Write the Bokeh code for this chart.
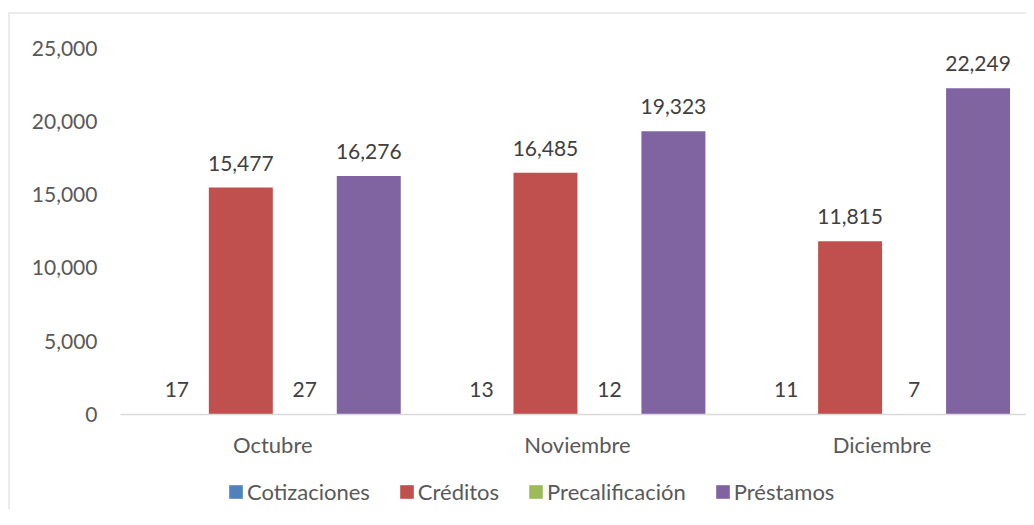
from bokeh.plotting import figure
from bokeh.models import (Range1d, FixedTicker, ColumnDataSource, LabelSet, Legend,
                          LegendItem, Span, NumeralTickFormatter)
from bokeh.transform import dodge
from bokeh.embed import file_html
from bokeh.resources import INLINE
from bokeh.core.properties import value

months = ["Octubre", "Noviembre", "Diciembre"]
series = ["Cotizaciones", "Créditos", "Precalificación", "Préstamos"]
cotizaciones = [17, 13, 11]
creditos = [15477, 16485, 11815]
precalificacion = [27, 12, 7]
prestamos = [16276, 19323, 22249]
colors = ["#4F81BD", "#C0504D", "#9BBB59", "#8064A2"]
y_ticks = [0, 5000, 10000, 15000, 20000, 25000]

FONT = "Lato"
values = [cotizaciones, creditos, precalificacion, prestamos]
xs = [i + 0.5 for i in range(len(months))]
data = {"x": xs}
for k, (name, vals) in enumerate(zip(series, values)):
    data[f"s{k}"] = vals
    data[f"l{k}"] = [f"{v:,}" for v in vals]
src = ColumnDataSource(data)

# frame covers the whole chart box; axes are pinned at x=0 / y=0
p = figure(width=1026, height=509, x_range=Range1d(-0.3676, 2.974),
           y_range=Range1d(-6480, 27422),
           output_backend="svg", toolbar_location=None,
           min_border_left=8, min_border_right=0, min_border_top=12, min_border_bottom=0)
p.outline_line_color = None
p.xgrid.visible = False
p.ygrid.visible = False

offsets = [-0.315, -0.105, 0.105, 0.315]
bw = 0.21
items = []
for k, name in enumerate(series):
    r = p.vbar(x=dodge("x", offsets[k], range=p.x_range), top=f"s{k}", width=bw,
               source=src, fill_color=colors[k], line_color=None)
    items.append(LegendItem(label=name, renderers=[r]))
    p.add_layout(LabelSet(x=dodge("x", offsets[k], range=p.x_range), y=f"s{k}", text=f"l{k}",
                          source=src, text_align="center", text_baseline="alphabetic",
                          y_offset=17, text_font=value(FONT), text_font_size="21px",
                          text_color="#404040"))

ya = p.yaxis[0]
ya.fixed_location = 0
ya.bounds = (0, 25000)
ya.ticker = FixedTicker(ticks=y_ticks)
ya.formatter = NumeralTickFormatter(format="0,0")
ya.axis_line_color = None
ya.major_tick_line_color = None
ya.minor_tick_line_color = None
ya.major_tick_in = 0
ya.major_tick_out = 0
ya.major_label_standoff = 23
ya.major_label_text_font = FONT
ya.major_label_text_font_size = "21px"
ya.major_label_text_color = "#595959"

xa = p.xaxis[0]
xa.fixed_location = 0
xa.bounds = (0, len(months))
xa.ticker = FixedTicker(ticks=xs)
xa.major_label_overrides = {x: m for x, m in zip(xs, months)}
xa.axis_line_color = "#d9d9d9"
xa.axis_line_width = 1.5
xa.major_tick_line_color = None
xa.minor_tick_line_color = None
xa.major_tick_in = 0
xa.major_tick_out = 0
xa.major_label_standoff = 16
xa.major_label_text_font = FONT
xa.major_label_text_font_size = "22px"
xa.major_label_text_color = "#595959"

legend = Legend(items=items, orientation="horizontal", location=(219, 4),
                glyph_width=17, glyph_height=17, label_standoff=3, spacing=28,
                padding=0, margin=0, border_line_color=None, background_fill_alpha=0,
                label_text_font=FONT, label_text_font_size="22px",
                label_text_color="#595959")
p.add_layout(legend, "center")

p.add_layout(Span(location=p.x_range.start, dimension="height", line_color="#d9d9d9", line_width=2))
p.add_layout(Span(location=p.y_range.end, dimension="width", line_color="#d9d9d9", line_width=2))

open("out.html", "w").write(file_html(p, INLINE))
